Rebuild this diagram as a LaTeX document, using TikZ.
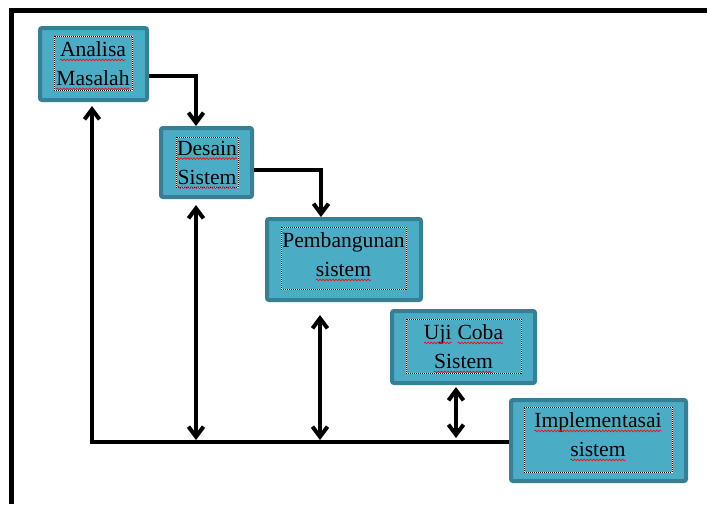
\documentclass[tikz,border=0pt]{standalone}
\usepackage{fontspec}
\setmainfont{Liberation Serif}
\usetikzlibrary{arrows.meta,decorations.pathmorphing}
\definecolor{boxfill}{HTML}{4BACC6}
\definecolor{boxline}{HTML}{367F94}
\newcommand\sqw[1]{\tikz[baseline=(w.base)]{\node[inner sep=0pt,outer sep=0pt](w){#1};\draw[red,line width=0.6pt,decorate,decoration={snake,amplitude=0.9pt,segment length=3.2pt}] ([yshift=-3pt]w.base west) -- ([yshift=-3pt]w.base east);}}
\begin{document}
\begin{tikzpicture}[x=1pt,y=-1pt,
 phase/.style={draw=boxline,fill=boxfill,line width=4pt,rounded corners=2pt,inner sep=0pt},
 tbox/.style={draw=white,line width=1pt,inner sep=0pt,postaction={draw=black,dash pattern=on 1pt off 1pt}},
 lbl/.style={align=center,font=\fontsize{21.6}{29}\selectfont,inner sep=0pt},
 conn/.style={line width=4pt,-{Straight Barb[length=10pt,width=15pt]}},
 dconn/.style={line width=4pt,{Straight Barb[length=10pt,width=15pt]}-{Straight Barb[length=10pt,width=15pt]}}]
\useasboundingbox (0,0) rectangle (707,504);
\fill[white] (0,0) rectangle (707,504);
\draw[line width=5pt] (11,504) -- (11,10) -- (707,10);

\node[phase,minimum width=107pt,minimum height=72pt] (A) at (93.5,64) {};
\node[tbox,minimum width=78pt,minimum height=54pt] (Ab) at (93,63) {};
\node[lbl] (At) at (93,66) {\sqw{Analisa}\\\sqw{Masalah}};

\node[phase,minimum width=91pt,minimum height=69pt] (D) at (206.5,162.5) {};
\node[tbox,minimum width=62pt,minimum height=50pt] (Db) at (207,162) {};
\node[lbl] (Dt) at (207,165) {\sqw{Desain}\\\sqw{Sistem}};

\node[phase,minimum width=154pt,minimum height=81pt] (P) at (344,259.5) {};
\node[tbox,minimum width=125pt,minimum height=62pt] (Pb) at (343.5,258) {};
\node[lbl] (Pt) at (343.5,257) {Pembangunan\\\sqw{sistem}};

\node[phase,minimum width=143pt,minimum height=72pt] (U) at (463.5,347) {};
\node[tbox,minimum width=115pt,minimum height=54pt] (Ub) at (463.5,346) {};
\node[lbl] (Ut) at (463.5,349) {\sqw{Uji} \sqw{Coba}\\\sqw{Sistem}};

\node[phase,minimum width=175pt,minimum height=81pt] (I) at (598.5,440.5) {};
\node[tbox,minimum width=148pt,minimum height=65pt] (Ib) at (598,439.5) {};
\node[lbl] (It) at (598,437) {\sqw{Implementasai}\\\sqw{sistem}};

\draw[conn] ([yshift=-12pt]A.east) -| ([xshift=-10.5pt]D.north);
\draw[conn] ([yshift=-7.5pt]D.east) -| ([xshift=-23pt]P.north);

\coordinate (c0) at (92,442);
\coordinate (c0s) at (90,442);
\draw[line width=4pt] (c0s) -- (c0s -| I.west);
\draw[conn] (c0) -- ([xshift=-1.5pt,yshift=-4pt]A.south);

\coordinate (c1) at (196,440);
\draw[dconn] ([xshift=-10.5pt,yshift=-6pt]D.south) -- (c1);
\coordinate (c2) at (320,440);
\draw[dconn] ([xshift=-24pt,yshift=-13pt]P.south) -- (c2);
\coordinate (c3) at (456,438);
\draw[dconn] ([xshift=-7.5pt,yshift=-2pt]U.south) -- (c3);
\end{tikzpicture}
\end{document}
